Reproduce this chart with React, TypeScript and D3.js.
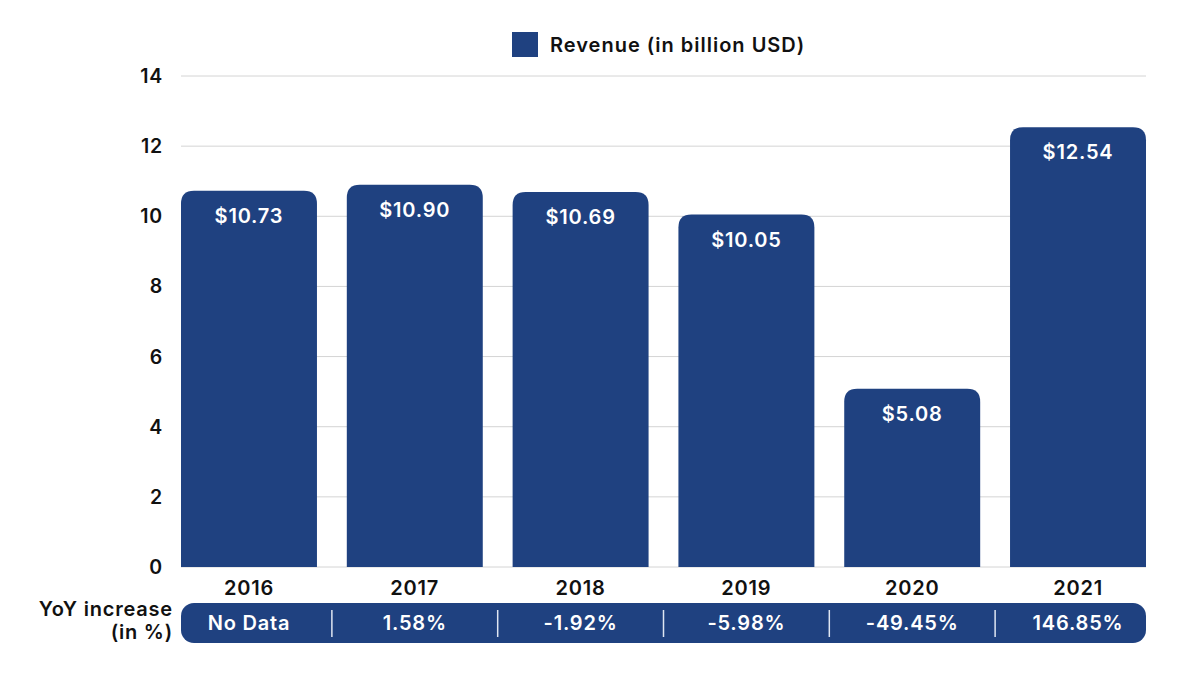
import React from "react";
import * as d3 from "d3";

const years = ["2016", "2017", "2018", "2019", "2020", "2021"];
const revenue = [10.73, 10.9, 10.69, 10.05, 5.08, 12.54];
const yoy = ["No Data", "1.58%", "-1.92%", "-5.98%", "-49.45%", "146.85%"];
const yTicks = [0, 2, 4, 6, 8, 10, 12, 14];
const legendLabel = "Revenue (in billion USD)";

const W = 1200;
const H = 675;
const BAR = "#1F4180";
const FONT = "Inter, 'Open Sans', sans-serif";
const LS = 0.8;

function topRounded(x: number, y: number, w: number, h: number, r: number) {
  const rr = Math.min(r, h, w / 2);
  return `M${x},${y + h}V${y + rr}Q${x},${y} ${x + rr},${y}H${x + w - rr}Q${x + w},${y} ${x + w},${y + rr}V${y + h}Z`;
}

export default function App() {
  const x = d3.scaleBand<string>().domain(years).range([181, 1146]).paddingInner(0.18).paddingOuter(0);
  const y = d3.scaleLinear().domain([0, 14]).range([567, 76]);
  const step = x.step();
  const bw = x.bandwidth();
  const rowTop = 603;
  const rowH = 40;

  return (
    <svg width={W} height={H} style={{ position: "absolute", left: 0, top: 0, background: "#fff" }} fontFamily={FONT} letterSpacing={LS}>
      <rect width={W} height={H} fill="#fff" />
      {/* legend */}
      <rect x={512} y={32} width={26} height={25} fill={BAR} />
      <text x={550} y={45} dominantBaseline="central" fontSize={20} fontWeight={600} fill="#111" letterSpacing={1}>
        {legendLabel}
      </text>
      {/* grid */}
      {yTicks.map((t) => (
        <g key={t}>
          <line x1={181} x2={1146} y1={y(t)} y2={y(t)} stroke="#d4d4d4" strokeWidth={1} />
          <text x={163} y={y(t)} textAnchor="end" dominantBaseline="central" fontSize={19.5} fontWeight={600} fill="#111">
            {t}
          </text>
        </g>
      ))}
      {/* bars */}
      {years.map((yr, i) => {
        const bx = x(yr)!;
        const by = y(revenue[i]);
        return (
          <g key={yr}>
            <path d={topRounded(bx, by, bw, y(0) - by, 13)} fill={BAR} />
            <text x={bx + bw / 2} y={by + 25} textAnchor="middle" dominantBaseline="central" fontSize={20} fontWeight={600} fill="#fff">
              {`$${revenue[i].toFixed(2)}`}
            </text>
            <text x={bx + bw / 2} y={588} textAnchor="middle" dominantBaseline="central" fontSize={20} fontWeight={600} fill="#111">
              {yr}
            </text>
          </g>
        );
      })}
      {/* YoY row */}
      <text x={173} y={609} textAnchor="end" dominantBaseline="central" fontSize={20} fontWeight={600} fill="#111">
        YoY increase
      </text>
      <text x={173} y={632} textAnchor="end" dominantBaseline="central" fontSize={20} fontWeight={600} fill="#111">
        (in %)
      </text>
      <rect x={181} y={rowTop} width={1146 - 181} height={rowH} rx={13} ry={13} fill={BAR} />
      {years.map((yr, i) => {
        const cx = x(yr)! + bw / 2;
        return (
          <g key={"yoy" + yr}>
            <text x={cx} y={rowTop + rowH / 2} textAnchor="middle" dominantBaseline="central" fontSize={20} fontWeight={600} fill="#fff">
              {yoy[i]}
            </text>
            {i > 0 && (
              <line
                x1={x(yr)! - (step - bw) / 2}
                x2={x(yr)! - (step - bw) / 2}
                y1={rowTop + 7}
                y2={rowTop + 34}
                stroke="#dfe6f2"
                strokeWidth={1.5}
              />
            )}
          </g>
        );
      })}
    </svg>
  );
}
